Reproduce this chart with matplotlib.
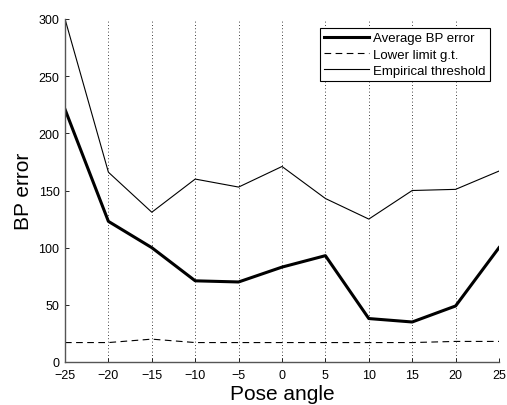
import matplotlib
matplotlib.use("Agg")
import matplotlib.pyplot as plt

plt.rcParams['font.family'] = ['Liberation Sans', 'DejaVu Sans']

# datos
angulos = [-25, -20, -15, -10, -5, 0, 5, 10, 15, 20, 25]
error_medio = [221, 123, 100, 71, 70, 83, 93, 38, 35, 49, 100]
limite_inferior = [17, 17, 20, 17, 17, 17, 17, 17, 17, 18, 18]
umbral_empirico = [300, 166, 131, 160, 153, 171, 143, 125, 150, 151, 167]

fig = plt.figure(figsize=(5.07, 4.06), dpi=100)
ax = fig.add_axes([65 / 507, 1 - 363 / 406, (499 - 65) / 507, (363 - 20) / 406])

ax.plot(angulos, error_medio, color='black', lw=2.2, label='Average BP error')
ax.plot(angulos, limite_inferior, color='black', lw=0.8, ls=(0, (6, 4)), label='Lower limit g.t.')
ax.plot(angulos, umbral_empirico, color='black', lw=0.8, label='Empirical threshold')

ax.set_xlim(-25, 25)
ax.set_ylim(0, 300)
ax.set_xticks(angulos)
ax.set_xticklabels([str(a).replace('-', '\u2212') for a in angulos])
ax.set_yticks(range(0, 301, 50))
ax.xaxis.grid(True, ls=(0, (1, 3)), color='black', lw=0.6)
ax.tick_params(direction='in', labelsize=9, length=3, width=0.6)
ax.tick_params(axis='x', pad=5)
ax.tick_params(axis='y', pad=4)

for s in ['top', 'right']:
    ax.spines[s].set_visible(False)
for s in ['left', 'bottom']:
    ax.spines[s].set_color('#555555')
    ax.spines[s].set_linewidth(1.0)

ax.set_xlabel('Pose angle', fontsize=15, labelpad=2)
ax.set_ylabel('BP error', fontsize=15, labelpad=4)

leg = ax.legend(loc='upper right', bbox_to_anchor=(0.98, 0.975), fontsize=9.5,
                fancybox=False, framealpha=1, edgecolor='black',
                handlelength=3.4, handletextpad=0.3, borderpad=0.35, labelspacing=0.3,
                borderaxespad=0)
leg.get_frame().set_linewidth(0.8)

fig.savefig('out.png', dpi=100)
